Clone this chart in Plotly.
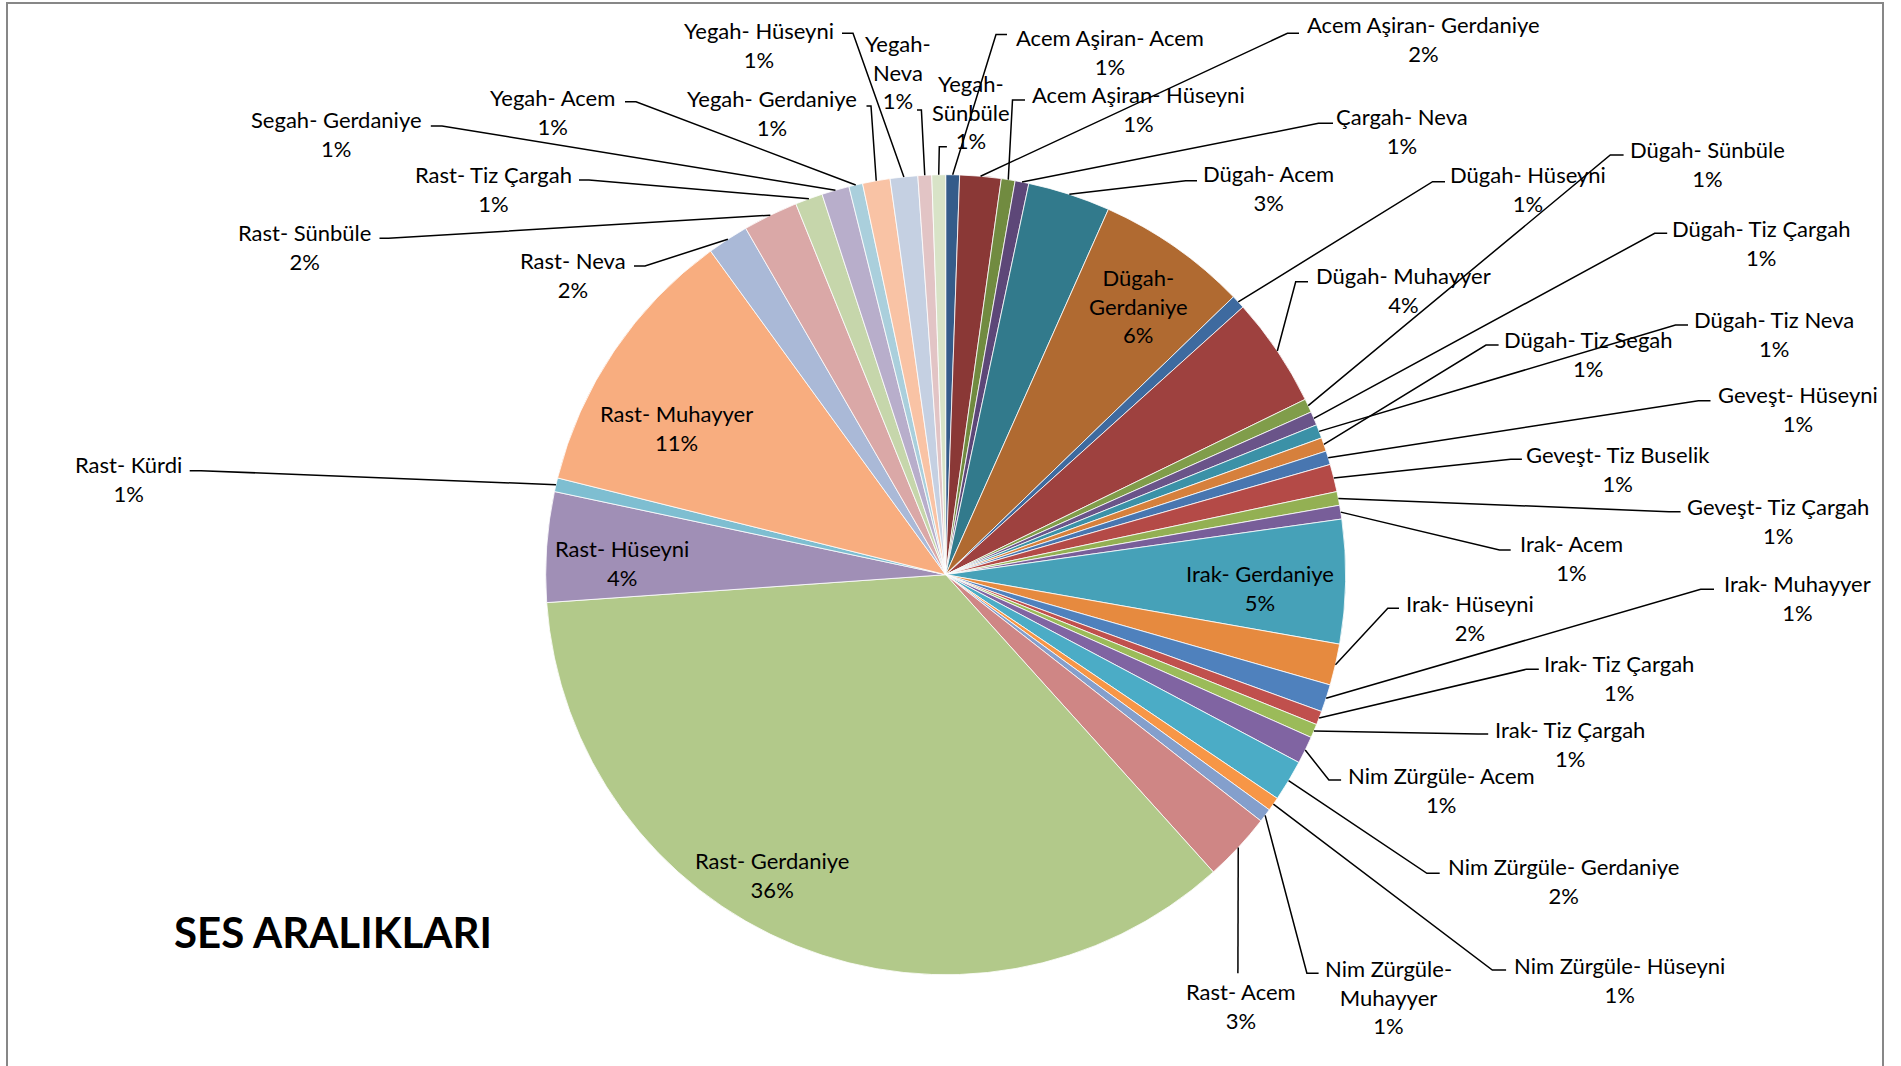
import math
import plotly.graph_objects as go

# ---------------- data ----------------
names = ["Acem Aşiran- Acem", "Acem Aşiran- Gerdaniye", "Acem Aşiran- Hüseyni", "Çargah- Neva",
         "Dügah- Acem", "Dügah- Gerdaniye", "Dügah- Hüseyni", "Dügah- Muhayyer", "Dügah- Sünbüle",
         "Dügah- Tiz Çargah", "Dügah- Tiz Neva", "Dügah- Tiz Segah", "Geveşt- Hüseyni",
         "Geveşt- Tiz Buselik", "Geveşt- Tiz Çargah", "Irak- Acem", "Irak- Gerdaniye", "Irak- Hüseyni",
         "Irak- Muhayyer", "Irak- Tiz Çargah", "Irak- Tiz Çargah", "Nim Zürgüle- Acem",
         "Nim Zürgüle- Gerdaniye", "Nim Zürgüle- Hüseyni", "Nim Zürgüle- Muhayyer", "Rast- Acem",
         "Rast- Gerdaniye", "Rast- Hüseyni", "Rast- Kürdi", "Rast- Muhayyer", "Rast- Neva",
         "Rast- Sünbüle", "Rast- Tiz Çargah", "Segah- Gerdaniye", "Yegah- Acem", "Yegah- Gerdaniye",
         "Yegah- Hüseyni", "Yegah- Neva", "Yegah- Sünbüle"]
counts = [1, 3, 1, 1, 6, 11, 1, 8, 1, 1, 1, 1, 1, 2, 1, 1, 9, 3, 2, 1, 1, 2, 3, 1, 1, 5,
          64, 8, 1, 20, 3, 4, 2, 2, 1, 2, 2, 1, 1]
title_text = "SES ARALIKLARI"

# ---------------- style ----------------
colors = ["#355C8A", "#8A3836", "#718B40", "#5D4778", "#327A8C", "#B06A31",
          "#3E6A9F", "#9E413F", "#809D4A", "#6A5489", "#3B91A7", "#D6803C",
          "#4876B0", "#B44A47", "#93B053", "#785E99", "#46A1B8", "#E68A3F",
          "#4F81BD", "#C0504D", "#9BBB59", "#8064A2", "#4BACC6", "#F79646",
          "#849FCC", "#CF8685", "#B2C98A", "#A08FB6", "#7EBED1", "#F8AD7F",
          "#AAB9D7", "#DAA8A7", "#C6D6AB", "#B8AECB", "#AACFDC", "#F9C3A5",
          "#C5D0E2", "#E2C4C5", "#D8E3C7"]

W, H = 1901, 1066
CX, CY, R = 945.7, 574.7, 400.0     # pie centre / radius in page pixels
FONT = "Lato"
FS = 22
GAP = 3                              # extra gap between leader tick and label text

# label placement in page pixels: (kind, centre x, centre y, wrap, leader points near label)
label_pos = [
    ("out", 1107, 51.7, False, [(996, 34.5), (1007, 34.5)]),
    ("out", 1420, 38.7, False, [(1287.4, 33.3), (1299, 33.3)]),
    ("out", 1135, 109.2, False, [(1012.5, 100), (1025, 100)]),
    ("out", 1398.5, 131.3, False, [(1318.5, 123.3), (1333, 123.3)]),
    ("out", 1265, 187.8, False, [(1185.7, 180.7), (1197, 180.7)]),
    ("in", 1138.3, 306.2, True, []),
    ("out", 1525, 189.2, False, [(1432.6, 181.7), (1445, 181.7)]),
    ("out", 1400, 290, False, [(1295.7, 281.7), (1308, 281.7)]),
    ("out", 1704, 164.3, False, [(1610.3, 155), (1623.6, 155)]),
    ("out", 1757.5, 243.3, False, [(1654.7, 233.3), (1667.2, 233.3)]),
    ("out", 1770.5, 333.8, False, [(1675.5, 325), (1688, 325)]),
    ("out", 1585.5, 353.8, False, [(1486, 345), (1498.6, 345)]),
    ("out", 1795, 408.7, False, [(1698.4, 400.7), (1710.5, 400.7)]),
    ("out", 1615, 469.5, False, [(1510.7, 459.3), (1521.9, 459.3)]),
    ("out", 1774.5, 520.8, False, [(1669, 511.7), (1680.6, 511.7)]),
    ("out", 1568, 558, False, [(1499.5, 550), (1510.7, 550)]),
    ("in", 1259.5, 588.3, False, []),
    ("out", 1466.5, 617.7, False, [(1387.8, 608.3), (1399, 608.3)]),
    ("out", 1794.5, 597.5, False, [(1700.7, 589.3), (1714, 589.3)]),
    ("out", 1615.7, 677.7, False, [(1526.3, 669.3), (1538.8, 669.3)]),
    ("out", 1567.4, 744.3, False, [(1478, 734), (1488.2, 734)]),
    ("out", 1438.6, 790, False, [(1328.9, 780), (1341.1, 780)]),
    ("out", 1560, 881.3, False, [(1426.9, 873.3), (1439.7, 873.3)]),
    ("out", 1616, 980, False, [(1492.3, 970), (1506.1, 970)]),
    ("out", 1385, 996.7, True, [(1306.9, 973.3), (1318.6, 973.3)]),
    ("out", 1241, 1006.2, False, [(1237.9, 973.3)]),
    ("in", 772.3, 875.3, False, []),
    ("in", 621.7, 562.5, False, []),
    ("out", 131.7, 478.7, False, [(200.9, 470.7), (189.7, 470.7)]),
    ("in", 676.6, 428, False, []),
    ("out", 576, 274.5, False, [(645, 266), (634, 266)]),
    ("out", 307, 247.2, False, [(388.4, 238.3), (379.5, 238.3)]),
    ("out", 496, 189.2, False, [(589, 180), (579, 180)]),
    ("out", 339.3, 133.7, False, [(442, 126), (430.8, 126)]),
    ("out", 555.8, 111.7, False, [(636, 101.7), (625, 101.7)]),
    ("out", 774.5, 113, False, [(871, 106), (866.5, 106)]),
    ("out", 761.6, 44.7, False, [(853, 33.3), (842, 33.3)]),
    ("out", 901.3, 72.2, True, [(921.4, 110), (917, 110)]),
    ("out", 967.5, 112.2, True, [(939.3, 146.7), (946.9, 146.7)]),
]


def px(x):
    return x / W


def py(y):
    return 1 - y / H


# unique labels for the pie (duplicate names would be merged otherwise)
seen = {}
pie_labels = []
for n in names:
    k = seen.get(n, 0)
    pie_labels.append(n + "\u200b" * k)
    seen[n] = k + 1

total = sum(counts)

fig = go.Figure()
fig.add_trace(go.Pie(
    labels=pie_labels, values=counts, sort=False, direction="clockwise", rotation=0,
    marker=dict(colors=colors, line=dict(color="white", width=0.8)),
    textinfo="none", showlegend=False,
    customdata=names, hovertemplate="%{customdata}: %{value} (%{percent})<extra></extra>",
    domain=dict(x=[px(CX - R), px(CX + R)], y=[py(CY + R), py(CY - R)]),
))

shapes = []
annotations = []
cum = 0
for i, (name, c) in enumerate(zip(names, counts)):
    mid = (cum + c / 2) / total * 2 * math.pi
    cum += c
    kind, lx, ly, wrap, pts = label_pos[i]
    pct = f"{c / total:.0%}"
    txt = name.replace("- ", "-<br>", 1) if wrap else name
    if kind == "out" and len(pts) == 2 and pts[1][1] == pts[0][1]:
        lx += GAP if pts[1][0] > pts[0][0] else -GAP
    annotations.append(dict(
        x=px(lx), y=py(ly), xref="paper", yref="paper", text=f"{txt}<br>{pct}",
        showarrow=False, xanchor="center", yanchor="middle", align="center",
        font=dict(family=FONT, size=FS, color="black"),
    ))
    if kind == "out":
        ex = CX + R * math.sin(mid)
        ey = CY - R * math.cos(mid)
        path = f"M {px(ex):.6f},{py(ey):.6f}"
        for (qx, qy) in pts:
            path += f" L {px(qx):.6f},{py(qy):.6f}"
        shapes.append(dict(type="path", xref="paper", yref="paper", path=path,
                           line=dict(color="black", width=1.5)))

# chart-area border
shapes.append(dict(type="rect", xref="paper", yref="paper",
                   x0=px(7), x1=px(1883), y0=py(1075), y1=py(3),
                   line=dict(color="#878787", width=2), fillcolor="rgba(0,0,0,0)"))

annotations.append(dict(
    x=px(332.6), y=py(931.5), xref="paper", yref="paper", text=f"<b>{title_text}</b>",
    showarrow=False, xanchor="center", yanchor="middle",
    font=dict(family=FONT, size=42, color="black"),
))

fig.update_layout(
    width=W, height=H, margin=dict(l=0, r=0, t=0, b=0),
    paper_bgcolor="white", plot_bgcolor="white",
    shapes=shapes, annotations=annotations, showlegend=False,
)

fig.write_html("out.html", config={"displayModeBar": False},
               post_script="document.body.style.margin='0px';")
